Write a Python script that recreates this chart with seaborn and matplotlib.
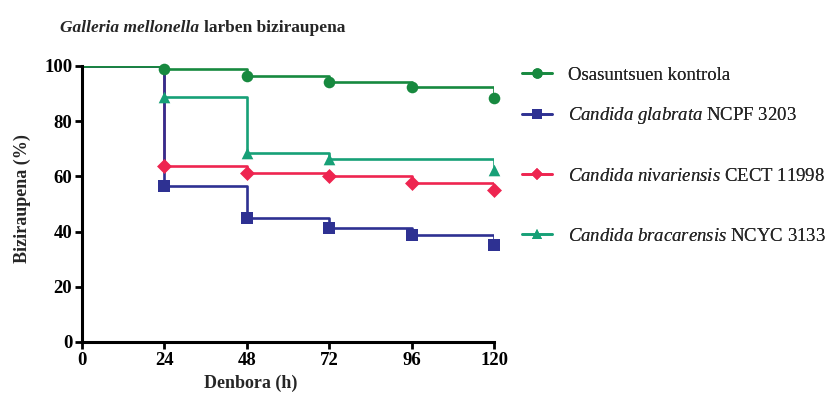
import matplotlib
matplotlib.use("Agg")
import matplotlib.pyplot as plt
import seaborn as sns
import pandas as pd
from matplotlib.lines import Line2D

sns.set_style("ticks")
plt.rcParams['font.family'] = ['Liberation Serif', 'DejaVu Serif']
plt.rcParams['mathtext.fontset'] = 'custom'
plt.rcParams['mathtext.it'] = 'Liberation Serif:italic'
plt.rcParams['mathtext.rm'] = 'Liberation Serif'

# ---- data ----
hours = [0, 24, 48, 72, 96, 120]
series_names = ["Osasuntsuen kontrola", "Candida glabrata NCPF 3203",
                "Candida nivariensis CECT 11998", "Candida bracarensis NCYC 3133"]
control = [100, 98.8, 96.3, 94.3, 92.4, 88.3]
glabrata = [100, 56.4, 45.0, 41.2, 38.8, 35.1]
nivariensis = [100, 63.8, 61.3, 60.2, 57.5, 55.1]
bracarensis = [100, 88.6, 68.6, 66.2, 66.2, 62.4]
# event (marker) times per series
control_events = [24, 48, 72, 96, 120]
glabrata_events = [24, 48, 72, 96, 120]
nivariensis_events = [24, 48, 72, 96, 120]
bracarensis_events = [24, 48, 72, 120]
x_ticks = [0, 24, 48, 72, 96, 120]
y_ticks = [0, 20, 40, 60, 80, 100]

colors = ["#17893f", "#2e3192", "#ee2550", "#17a077"]
markers = ["o", "s", "D", "^"]
msizes = [70, 65, 58, 70]
values = [control, glabrata, nivariensis, bracarensis]
events = [control_events, glabrata_events, nivariensis_events, bracarensis_events]

fig = plt.figure(figsize=(8.31, 4.03), dpi=100)
ax = fig.add_axes([0.0987, 0.1514, 0.4958, 0.685])

order = [3, 2, 1, 0]
for i in order:
    df = pd.DataFrame({"t": hours, "s": values[i]})
    sns.lineplot(data=df, x="t", y="s", ax=ax, color=colors[i], lw=1.9,
                 drawstyle="steps-post", estimator=None, sort=False, zorder=2)
    ev = pd.DataFrame({"t": events[i],
                       "s": [values[i][hours.index(t)] for t in events[i]]})
    sns.scatterplot(data=ev, x="t", y="s", ax=ax, color=colors[i], marker=markers[i],
                    s=msizes[i], linewidth=0, zorder=3, clip_on=False)

ax.set_xlim(0, 120)
ax.set_ylim(0, 100)
ax.set_xticks(x_ticks)
ax.set_yticks(y_ticks)
ax.set_xticklabels([str(v) for v in x_ticks], fontsize=13.5, fontweight="bold")
ax.set_yticklabels([str(v) for v in y_ticks], fontsize=13.5, fontweight="bold")
ax.tick_params(axis="both", direction="out", length=5, width=2, colors="black", pad=2)
for side in ["left", "bottom"]:
    ax.spines[side].set_linewidth(2.2)
    ax.spines[side].set_color("black")
sns.despine(ax=ax)
ax.set_xlabel("Denbora (h)", fontsize=13, fontweight="bold")
ax.set_ylabel("Biziraupena (%)", fontsize=13, fontweight="bold")
ax.xaxis.set_label_coords(0.41, -0.12)
ax.yaxis.set_label_coords(-0.125, 0.52)

# ---- legend: separate entries at reference positions ----
legend_y = [75, 116, 176, 236]
labels = [
    r"Osasuntsuen kontrola",
    r"$\it{Candida\ glabrata}$ NCPF 3203",
    r"$\it{Candida\ nivariensis}$ CECT 11998",
    r"$\it{Candida\ bracarensis}$ NCYC 3133",
]
for i in range(4):
    h = Line2D([0], [0], color=colors[i], lw=1.9, marker=markers[i],
               markersize=7.5 if markers[i] != "D" else 6.5, markeredgewidth=0)
    leg = fig.legend([h], [labels[i]], loc="center left",
                     bbox_to_anchor=(522 / 831, 1 - legend_y[i] / 403),
                     frameon=False, fontsize=13.5, handlelength=1.6,
                     handletextpad=0.85, borderpad=0, borderaxespad=0)
    fig.add_artist(leg)

# ---- title: italic part + bold part ----
fig.canvas.draw()
renderer = fig.canvas.get_renderer()
t1 = fig.text(60 / 831, 1 - 28 / 403, "Galleria mellonella", fontsize=12.5,
              fontstyle="italic", fontweight="bold", va="center", ha="left")
bb = t1.get_window_extent(renderer=renderer)
fig.text(bb.x1 / fig.bbox.width + 0.006, 1 - 28 / 403, "larben biziraupena",
         fontsize=12.5, fontweight="bold", va="center", ha="left")

fig.savefig("out.png", dpi=100)
